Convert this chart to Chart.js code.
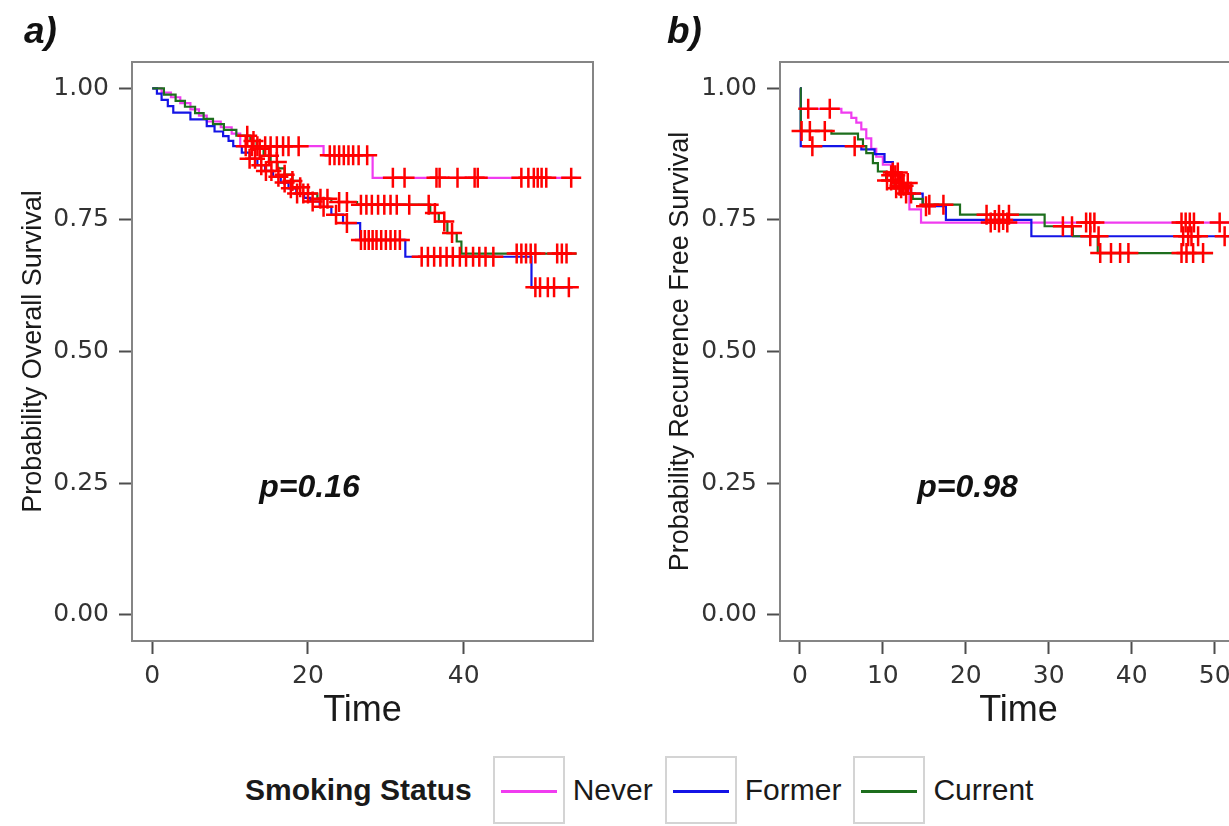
<!DOCTYPE html>
<html>
<head>
<meta charset="utf-8">
<script src="https://cdn.jsdelivr.net/npm/chart.js@4/dist/chart.umd.min.js"></script>
<style>
  html, body { margin: 0; padding: 0; background: #fff; overflow: hidden; }
  #wrap { position: relative; width: 1229px; height: 826px; overflow: hidden; background: #fff; }
  canvas { position: absolute; top: 0; }
  #cvA { left: 0; }
  #cvB { left: 640px; }
  .tag { position: absolute; top: 11px; font: italic bold 37px "Liberation Sans", Arial, sans-serif; color: #111; line-height: 40px; }
  #legend { position: absolute; left: 245px; top: 756px; height: 68px; display: flex; align-items: center;
            font-family: "Liberation Sans", Arial, sans-serif; color: #1a1a1a; }
  #legend .ttl { font-weight: bold; font-size: 30px; margin-right: 21px; }
  #legend .key { box-sizing: border-box; width: 72px; height: 68px; border: 2px solid #d4d4d4; position: relative; }
  #legend .key i { position: absolute; left: 6px; right: 6px; top: 32px; height: 2.5px; }
  #legend .lab { font-size: 30px; margin: 0 12px 0 8px; }
</style>
</head>
<body>
<div id="wrap">
  <canvas id="cvA" width="620" height="745"></canvas>
  <canvas id="cvB" width="640" height="745"></canvas>
  <div class="tag" style="left:24px">a)</div>
  <div class="tag" style="left:667px">b)</div>
  <div id="legend"></div>
</div>
<script>
// Smoking-status groups and their line colours
const groups = ['Never', 'Former', 'Current'];
const groupColors = ['#f03cf0', '#1414e6', '#1d6e1d'];

// a) overall survival: Kaplan–Meier step points [time, survival]
const osNever = [[0,1],[1.2,0.992],[2.4,0.983],[3.6,0.972],[4.9,0.96],[6,0.948],[7,0.937],[8.8,0.926],[10.2,0.914],[11.3,0.89],[22,0.873],[28.3,0.83],[54.5,0.83]];
const osFormer = [[0,1],[0.6,0.99],[1.2,0.978],[2,0.966],[2.7,0.954],[4.9,0.941],[7,0.928],[8,0.918],[9.1,0.909],[9.8,0.9],[10.4,0.89],[11.5,0.878],[12.5,0.866],[13.5,0.854],[14.5,0.843],[15.5,0.832],[16.5,0.821],[17.5,0.81],[18.5,0.8],[19.5,0.792],[20.3,0.785],[21.5,0.775],[23,0.76],[24.5,0.744],[26.7,0.712],[32.5,0.68],[48.7,0.622],[54,0.622]];
const osCurrent = [[0,1],[1.5,0.988],[3,0.976],[4.2,0.965],[5.5,0.953],[6.6,0.942],[7.8,0.932],[9.2,0.921],[10.8,0.91],[12.6,0.9],[13.4,0.885],[14.3,0.872],[15.2,0.86],[16.1,0.848],[17,0.836],[18,0.824],[19,0.812],[20,0.8],[21.2,0.79],[23,0.784],[26.3,0.779],[35.7,0.763],[36.8,0.747],[37.9,0.725],[39.1,0.709],[39.7,0.686],[54.5,0.686]];

// a) censoring times per group
const osNeverCens = [12,12.8,13.5,14.5,15.2,16,16.8,17.5,18.8,22.8,23.4,24,24.6,25.2,25.8,26.5,27.6,30.9,32.4,36.5,36.9,39.2,41.4,41.8,47.4,48.3,49,49.5,50,50.6,53.8];
const osFormerCens = [12.5,13.2,14,14.6,15.3,16.2,17,17.8,18.6,19.4,20.6,22,23.6,25,26.8,27.3,27.8,28.3,28.8,29.4,30,30.6,31.2,31.8,34.6,35.4,36.2,37,37.8,38.6,39.5,40.3,41.2,42,42.8,43.8,49.2,49.8,50.8,51.6,53.5];
const osCurrentCens = [12.2,13,13.8,15,16,17,18,19,20,21.6,22.5,24,25,26.8,27.5,28.2,29,29.8,30.6,31.4,33,35.5,36.3,37.5,38.5,46.8,47.4,48,48.6,49.2,52,52.6,53.2];

// b) recurrence-free survival: step points [time, survival]
const rfsNever = [[0,1],[0.1,0.961],[5,0.954],[6.2,0.944],[6.8,0.935],[7.4,0.922],[8,0.905],[8.6,0.885],[9.2,0.87],[10,0.855],[11,0.835],[12,0.815],[13.2,0.77],[14.6,0.745],[52.5,0.745]];
const rfsFormer = [[0,1],[0.1,0.89],[7.4,0.884],[9,0.875],[10.2,0.86],[11.2,0.84],[12.2,0.82],[13.4,0.8],[14.8,0.776],[17.6,0.75],[27.9,0.719],[52.5,0.719]];
const rfsCurrent = [[0,1],[0.1,0.919],[3.8,0.914],[7,0.903],[7.6,0.89],[8,0.877],[8.8,0.858],[9.4,0.842],[10.4,0.825],[11.4,0.81],[12.4,0.8],[13.6,0.79],[14.8,0.779],[19.3,0.76],[29.5,0.738],[32.9,0.719],[35.9,0.687],[49.8,0.687]];

// b) censoring times per group
const rfsNeverCens = [1,3.6,11,11.5,12,12.5,23,24,25,34.5,35,35.5,46,46.5,47,47.5,50.6];
const rfsFormerCens = [1.5,6.6,11.2,11.8,12.3,13,15.2,23.5,24.5,35,36,46.2,46.8,47.2,48,51.2];
const rfsCurrentCens = [0.2,1.2,3,10.5,11,11.6,12.2,12.8,13.4,15.6,17.3,22.5,24,25.2,31.7,32.8,36.2,37.5,38.6,39.6,46,46.6,47.4,48.6];

// axis ticks and log-rank p-values
const xTicksA = [0, 20, 40];
const xTicksB = [0, 10, 20, 30, 40, 50];
const yTicks = [0, 0.25, 0.5, 0.75, 1];
const pLabels = ['p=0.16', 'p=0.98'];

// survival value of a step curve at time t
function survAt(curve, t) {
  let s = curve[0][1];
  for (const [x, y] of curve) { if (x <= t) s = y; else break; }
  return s;
}

function buildDatasets(curves, censors) {
  const ds = [];
  curves.forEach((c, i) => ds.push({
    label: groups[i],
    data: c.map(([x, y]) => ({ x, y })),
    borderColor: groupColors[i],
    borderWidth: 2.2,
    pointRadius: 0,
    stepped: true,
    fill: false,
    order: 4 - i
  }));
  censors.forEach((times, i) => ds.push({
    label: groups[i] + ' (censored)',
    data: times.map(t => ({ x: t, y: survAt(curves[i], t) })),
    showLine: false,
    pointStyle: 'cross',
    pointRadius: 10,
    pointBorderColor: '#ff0000',
    pointBorderWidth: 2.5,
    order: 0
  }));
  return ds;
}

// panel frame and p-value annotation
const panelDecor = {
  id: 'panelDecor',
  afterDatasetsDraw(chart, args, opts) {
    const { ctx, chartArea: a, scales } = chart;
    ctx.save();
    ctx.strokeStyle = '#858585';
    ctx.lineWidth = 2;
    ctx.strokeRect(a.left, a.top, a.right - a.left, a.bottom - a.top);
    ctx.fillStyle = '#111';
    ctx.font = 'italic bold 32px "Liberation Sans", Arial, sans-serif';
    ctx.textAlign = 'center';
    ctx.textBaseline = 'middle';
    ctx.fillText(opts.text, scales.x.getPixelForValue(opts.x), scales.y.getPixelForValue(opts.y));
    ctx.restore();
  }
};

function makeOptions(cfg) {
  const tickFont = { family: '"DejaVu Sans", sans-serif', size: 25 };
  const grid = { display: true, drawOnChartArea: false, drawTicks: true, tickLength: 13, tickWidth: 2, tickColor: '#4d4d4d' };
  return {
    responsive: false,
    animation: false,
    events: [],
    layout: { padding: cfg.padding },
    plugins: {
      legend: { display: false },
      tooltip: { enabled: false },
      panelDecor: { text: cfg.p, x: 20.2, y: 0.24 }
    },
    scales: {
      x: {
        type: 'linear', min: cfg.xMin, max: cfg.xMax,
        afterBuildTicks: s => { s.ticks = cfg.xTicks.map(v => ({ value: v })); },
        afterFit: s => { s.height = 100; },
        grid, border: { display: false },
        ticks: { font: tickFont, color: '#333', padding: 7, maxRotation: 0, autoSkip: false, callback: v => String(v) },
        title: { display: true, text: 'Time', color: '#1a1a1a',
                 font: { family: '"Liberation Sans", Arial, sans-serif', size: 36 }, padding: { top: 0, bottom: 8 } }
      },
      y: {
        type: 'linear', min: -0.05, max: 1.05,
        afterBuildTicks: s => { s.ticks = yTicks.map(v => ({ value: v })); },
        afterFit: s => { s.width = cfg.yWidth; },
        grid, border: { display: false },
        ticks: { font: tickFont, color: '#333', padding: 10, autoSkip: false, callback: v => Number(v).toFixed(2) },
        title: { display: true, text: cfg.yTitle, color: '#1a1a1a',
                 font: { family: '"Liberation Sans", Arial, sans-serif', size: 27 }, padding: { top: cfg.yTitlePad, bottom: 0 } }
      }
    }
  };
}

new Chart(document.getElementById('cvA'), {
  type: 'line',
  data: { datasets: buildDatasets([osNever, osFormer, osCurrent], [osNeverCens, osFormerCens, osCurrentCens]) },
  options: makeOptions({ padding: { left: 0, top: 62, right: 27, bottom: 4 }, xMin: -2.6, xMax: 56.6, xTicks: xTicksA,
                         yWidth: 132, yTitle: 'Probability Overall Survival', yTitlePad: 17, p: pLabels[0] }),
  plugins: [panelDecor]
});

new Chart(document.getElementById('cvB'), {
  type: 'line',
  data: { datasets: buildDatasets([rfsNever, rfsFormer, rfsCurrent], [rfsNeverCens, rfsFormerCens, rfsCurrentCens]) },
  options: makeOptions({ padding: { left: 0, top: 62, right: 23, bottom: 4 }, xMin: -2.4, xMax: 55.1, xTicks: xTicksB,
                         yWidth: 140, yTitle: 'Probability Recurrence Free Survival', yTitlePad: 24, p: pLabels[1] }),
  plugins: [panelDecor]
});

// legend: boxed line keys for each group
const legend = document.getElementById('legend');
const ttl = document.createElement('span');
ttl.className = 'ttl';
ttl.textContent = 'Smoking Status';
legend.appendChild(ttl);
groups.forEach((g, i) => {
  const key = document.createElement('span');
  key.className = 'key';
  const line = document.createElement('i');
  line.style.background = groupColors[i];
  key.appendChild(line);
  const lab = document.createElement('span');
  lab.className = 'lab';
  lab.textContent = g;
  legend.appendChild(key);
  legend.appendChild(lab);
});
</script>
</body>
</html>
